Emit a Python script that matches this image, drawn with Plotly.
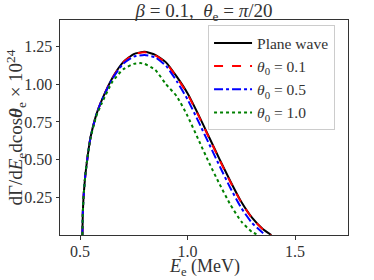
import plotly.graph_objects as go

# Energy grids (MeV) and spectra (x 10^24)
E_pw = [0.511, 0.513, 0.516, 0.52, 0.525, 0.53, 0.54, 0.55, 0.575, 0.6, 0.65, 0.7, 0.75, 0.8, 0.85, 0.9, 0.95,
        1.0, 1.05, 1.1, 1.15, 1.2, 1.25, 1.3, 1.35, 1.39]
plane_wave = [0.0, 0.14, 0.24, 0.32, 0.40, 0.46, 0.57, 0.655, 0.795, 0.89, 1.04, 1.145, 1.2, 1.215, 1.195, 1.145, 1.05,
              0.94, 0.80, 0.65, 0.50, 0.355, 0.22, 0.115, 0.04, 0.0]

E_01 = [0.511, 0.513, 0.516, 0.52, 0.525, 0.53, 0.54, 0.55, 0.575, 0.6, 0.65, 0.7, 0.75, 0.8, 0.85, 0.9, 0.95,
        1.0, 1.05, 1.1, 1.15, 1.2, 1.25, 1.3, 1.35, 1.388]
theta_01 = [0.0, 0.14, 0.24, 0.32, 0.40, 0.46, 0.57, 0.655, 0.795, 0.89, 1.04, 1.143, 1.198, 1.212, 1.192, 1.141, 1.046,
            0.935, 0.795, 0.645, 0.495, 0.35, 0.216, 0.112, 0.038, 0.0]

E_05 = [0.511, 0.513, 0.516, 0.52, 0.525, 0.53, 0.54, 0.55, 0.575, 0.6, 0.65, 0.7, 0.75, 0.8, 0.85, 0.9, 0.95,
        1.0, 1.05, 1.1, 1.15, 1.2, 1.25, 1.3, 1.35, 1.365]
theta_05 = [0.0, 0.14, 0.24, 0.32, 0.40, 0.46, 0.57, 0.655, 0.795, 0.89, 1.035, 1.135, 1.183, 1.194, 1.178, 1.122, 1.02,
            0.90, 0.755, 0.605, 0.455, 0.31, 0.18, 0.08, 0.015, 0.0]

E_10 = [0.511, 0.513, 0.516, 0.52, 0.525, 0.53, 0.54, 0.55, 0.575, 0.6, 0.65, 0.7, 0.75, 0.78, 0.8, 0.85, 0.9, 0.95,
        1.0, 1.05, 1.1, 1.15, 1.2, 1.25, 1.3, 1.33]
theta_10 = [0.0, 0.14, 0.24, 0.32, 0.40, 0.46, 0.565, 0.65, 0.785, 0.87, 1.015, 1.098, 1.135, 1.14, 1.135, 1.095, 1.0, 0.92,
            0.79, 0.635, 0.48, 0.335, 0.20, 0.09, 0.02, 0.0]

series_names = ["Plane wave", "<i>θ</i><sub>0</sub> = 0.1", "<i>θ</i><sub>0</sub> = 0.5", "<i>θ</i><sub>0</sub> = 1.0"]
series_x = [E_pw, E_01, E_05, E_10]
series_y = [plane_wave, theta_01, theta_05, theta_10]
colors = ["black", "red", "blue", "green"]
dashes = ["solid", "dash", "dashdot", "dot"]

x_ticks = [0.5, 1.0, 1.5]
x_labels = ["0.5", "1.0", "1.5"]
y_ticks = [0.25, 0.5, 0.75, 1.0, 1.25]
y_labels = ["0.25", "0.50", "0.75", "1.00", "1.25"]

FONT = "'Liberation Serif', 'DejaVu Serif', serif"

fig = go.Figure()
for xs, ys, n, c, d in zip(series_x, series_y, series_names, colors, dashes):
    fig.add_trace(go.Scatter(x=xs, y=ys, mode="lines", name=n,
                             line=dict(color=c, dash=d, width=2, shape="spline", smoothing=0.5)))

axis_common = dict(showline=True, mirror=True, linecolor="#333", linewidth=1, automargin=False,
                   ticks="outside", ticklen=3.5, tickcolor="#333", showgrid=False, zeroline=False,
                   tickfont=dict(family=FONT, size=16, color="#333"))

fig.update_layout(
    width=374, height=280,
    margin=dict(l=60, r=26, t=20, b=45, autoexpand=False),
    paper_bgcolor="white", plot_bgcolor="white",
    font=dict(family=FONT, color="#333"),
    title=dict(text="<i>β</i> = 0.1,  <i>θ</i><sub>e</sub> = <i>π</i>/20",
               x=204/374, xanchor="center", y=1 - 10/280, yanchor="middle",
               font=dict(family=FONT, size=19, color="#333")),
    xaxis=dict(range=[0.407, 1.7465], tickvals=x_ticks, ticktext=x_labels, ticklabelstandoff=-2, **axis_common),
    yaxis=dict(range=[0, 1.426], tickvals=y_ticks, ticktext=y_labels, **axis_common),
    legend=dict(x=0.955, y=0.975, xanchor="right", yanchor="top",
                bgcolor="white", bordercolor="#ccc", borderwidth=1,
                font=dict(family=FONT, size=15.5, color="#333"),
                tracegroupgap=0, itemwidth=38),
    showlegend=True,
    annotations=[
        dict(text="<i>E</i><sub>e</sub> (MeV)", xref="paper", yref="paper",
             x=0.5, y=-(267 - 235) / 215, xanchor="center", yanchor="middle",
             showarrow=False, font=dict(family=FONT, size=18, color="#333")),
        dict(text="dΓ/d<i>E</i><sub>e</sub>dcos<b><i>θ</i></b><sub>e</sub> × 10<sup>24</sup>",
             xref="paper", yref="paper", x=-(60 - 16) / 288, y=0.5,
             xanchor="center", yanchor="middle", textangle=-90,
             showarrow=False, font=dict(family=FONT, size=19, color="#333")),
    ],
)

fig.write_html("out.html", config={"displayModeBar": False},
               post_script="document.body.style.margin='0';document.body.style.overflow='hidden';")
